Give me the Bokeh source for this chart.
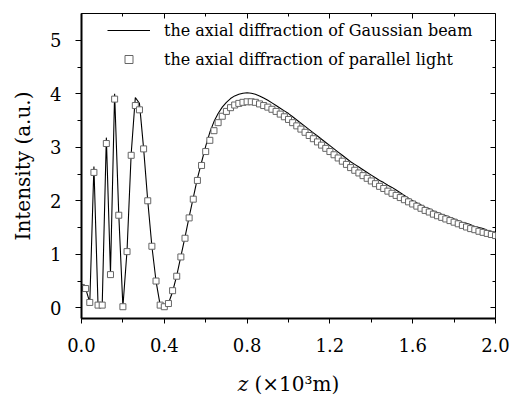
from bokeh.plotting import figure
from bokeh.models import Range1d, LinearAxis, Legend, LegendItem, FixedTicker, ColumnDataSource
from bokeh.embed import file_html
from bokeh.resources import INLINE

# z values (x10^3 m), sampled every 0.02
z = [round(0.02 * i, 2) for i in range(101)]

# axial diffraction of Gaussian beam (solid line)
gaussian = [
    0.38, 0.36, 0.10, 2.64, 0.03, 0.05, 3.18, 0.65, 4.00, 1.75,
    0.02, 1.07, 2.88, 3.93, 3.82, 2.98, 2.00, 1.15, 0.50, 0.05,
    0.02, 0.08, 0.30, 0.60, 0.96, 1.32, 1.70, 2.06, 2.42, 2.72,
    3.02, 3.28, 3.48, 3.63, 3.75, 3.84, 3.91, 3.96, 3.99, 4.01,
    4.02, 4.01, 3.99, 3.96, 3.92, 3.88, 3.83, 3.78, 3.73, 3.68,
    3.63, 3.57, 3.51, 3.45, 3.39, 3.33, 3.27, 3.21, 3.15, 3.09,
    3.03, 2.97, 2.91, 2.85, 2.79, 2.73, 2.68, 2.63, 2.58, 2.53,
    2.48, 2.43, 2.38, 2.34, 2.29, 2.25, 2.20, 2.15, 2.10, 2.05,
    2.00, 1.96, 1.92, 1.88, 1.85, 1.81, 1.78, 1.75, 1.72, 1.69,
    1.66, 1.63, 1.60, 1.58, 1.55, 1.52, 1.50, 1.48, 1.45, 1.43,
    1.41,
]

# axial diffraction of parallel light (squares)
parallel = [
    0.38, 0.36, 0.10, 2.53, 0.05, 0.05, 3.07, 0.62, 3.90, 1.73,
    0.02, 1.05, 2.85, 3.78, 3.70, 2.97, 2.00, 1.15, 0.50, 0.05,
    0.02, 0.08, 0.32, 0.59, 0.95, 1.30, 1.68, 2.03, 2.38, 2.66,
    2.92, 3.13, 3.31, 3.46, 3.58, 3.67, 3.74, 3.79, 3.82, 3.84,
    3.85, 3.85, 3.84, 3.81, 3.78, 3.75, 3.71, 3.67, 3.62, 3.57,
    3.52, 3.46, 3.40, 3.34, 3.28, 3.22, 3.16, 3.10, 3.04, 2.98,
    2.92, 2.86, 2.80, 2.74, 2.68, 2.62, 2.57, 2.52, 2.47, 2.42,
    2.37, 2.32, 2.27, 2.23, 2.18, 2.14, 2.10, 2.06, 2.02, 1.98,
    1.94, 1.90, 1.86, 1.82, 1.79, 1.75, 1.72, 1.69, 1.66, 1.63,
    1.60, 1.57, 1.54, 1.51, 1.48, 1.46, 1.43, 1.41, 1.39, 1.37,
    1.35,
]

x_ticks = [0.0, 0.4, 0.8, 1.2, 1.6, 2.0]
x_minor = [0.2, 0.6, 1.0, 1.4, 1.8]
y_ticks = [0, 1, 2, 3, 4, 5]
y_minor = [0.5, 1.5, 2.5, 3.5, 4.5]

legend_labels = ["the axial diffraction of Gaussian beam",
                 "the axial diffraction of parallel light"]
x_label = "\U0001D467 (×10³m)"
y_label = "Intensity (a.u.)"

FONT = "DejaVu Serif"
W, H = 510, 398

p = figure(width=W, height=H, output_backend="svg", toolbar_location=None,
           x_range=Range1d(0.0, 2.0), y_range=Range1d(-0.2, 5.5),
           min_border_left=81, min_border_right=15, min_border_top=13,
           min_border_bottom=71)
p.background_fill_color = "white"
p.border_fill_color = "white"
p.outline_line_color = "black"
p.outline_line_width = 1
p.xgrid.visible = False
p.ygrid.visible = False

src = ColumnDataSource(dict(z=z, g=gaussian, pl=parallel))
r_line = p.line("z", "g", source=src, line_color="#000000", line_width=1.1)
r_sq = p.scatter("z", "pl", source=src, marker="square", size=6,
                 line_color="#666666", fill_color="white", line_width=1)

# main axes
xa = p.xaxis[0]
xa.ticker = FixedTicker(ticks=x_ticks, minor_ticks=x_minor)
xa.major_label_overrides = {t: f"{t:.1f}" for t in x_ticks}
ya = p.yaxis[0]
ya.ticker = FixedTicker(ticks=y_ticks, minor_ticks=y_minor)
for ax in (xa, ya):
    ax.axis_line_width = 2
    ax.axis_line_color = "black"
    ax.major_tick_in = 0
    ax.minor_tick_in = 0
    ax.major_tick_line_color = "black"
    ax.minor_tick_line_color = "black"
    ax.major_label_text_font = FONT
    ax.major_label_text_font_size = "18px"
    ax.major_label_text_color = "black"
    ax.axis_label_text_font = FONT
    ax.axis_label_text_font_style = "normal"
    ax.axis_label_text_font_size = "20px"
    ax.axis_label_text_color = "black"
xa.major_tick_out = 5
xa.minor_tick_out = 4
xa.major_label_standoff = 14
ya.major_tick_out = 6
ya.minor_tick_out = 4
ya.major_label_standoff = 14
xa.axis_label = x_label
xa.axis_label_standoff = 17
ya.axis_label = y_label
ya.axis_label_standoff = 12

# mirrored axes (ticks inward, no labels)
top = LinearAxis(ticker=FixedTicker(ticks=x_ticks, minor_ticks=x_minor))
right = LinearAxis(ticker=FixedTicker(ticks=y_ticks, minor_ticks=y_minor))
for ax in (top, right):
    ax.axis_line_color = None
    ax.major_tick_in = 5
    ax.major_tick_out = 0
    ax.minor_tick_in = 3
    ax.minor_tick_out = 0
    ax.major_label_text_color = None
    ax.major_label_text_font_size = "1px"
    ax.major_label_standoff = 0
p.add_layout(top, "above")
p.add_layout(right, "right")

legend = Legend(items=[LegendItem(label=legend_labels[0], renderers=[r_line]),
                       LegendItem(label=legend_labels[1], renderers=[r_sq])],
                location=(26, 249), border_line_color=None,
                background_fill_alpha=0, padding=0, margin=0, spacing=9,
                glyph_width=43, glyph_height=20, label_height=20,
                label_standoff=14, label_text_font=FONT,
                label_text_font_size="16px", label_text_color="black")
p.add_layout(legend)

open("out.html", "w").write(file_html(p, INLINE))
